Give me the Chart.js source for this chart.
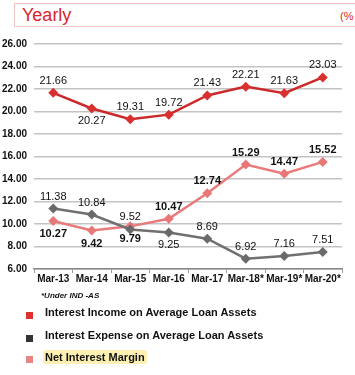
<!DOCTYPE html>
<html><head><meta charset="utf-8">
<script src="https://cdn.jsdelivr.net/npm/chart.js@4"></script>
<style>
html,body{margin:0;padding:0;background:#fff;width:355px;height:375px;overflow:hidden;font-family:"Liberation Sans",Arial,sans-serif;}
#hdr{position:absolute;left:14px;top:3px;width:360px;height:24px;border:1px solid #f4c4c4;box-sizing:border-box;}
#hdr .t{position:absolute;left:7px;top:1px;font-size:18px;color:#d8262a;}
#hdr .u{position:absolute;left:325px;top:6px;font-size:11px;color:#d8262a;}
#wrap{position:absolute;left:0;top:0;width:355px;height:300px;}
#note{position:absolute;left:41px;top:291px;font-size:8px;font-style:italic;font-weight:bold;color:#111;}
.lg{position:absolute;left:45px;font-size:11px;font-weight:bold;color:#111;white-space:nowrap;}
.sq{position:absolute;left:26px;width:7px;height:7px;}
.hl{background:#fdf0b2;border-radius:3px;padding:1px 2px;margin-left:-2px;}
</style></head>
<body>
<div id="hdr"><span class="t">Yearly</span><span class="u">(%</span></div>
<div id="wrap"><canvas id="c" width="355" height="300"></canvas></div>
<div id="note">*Under IND -AS</div>
<div class="sq" style="top:312px;background:#e0312f;"></div>
<div class="lg" style="top:306px;">Interest Income on Average Loan Assets</div>
<div class="sq" style="top:335px;background:#333;"></div>
<div class="lg" style="top:329px;">Interest Expense on Average Loan Assets</div>
<div class="sq" style="top:356px;background:#e88484;"></div>
<div class="lg" style="top:351px;"><span class="hl">Net Interest Margin</span></div>
<script>
const categories = ["Mar-13","Mar-14","Mar-15","Mar-16","Mar-17","Mar-18*","Mar-19*","Mar-20*"];
const incomeValues = [21.66,20.27,19.31,19.72,21.43,22.21,21.63,23.03];
const expenseValues = [11.38,10.84,9.52,9.25,8.69,6.92,7.16,7.51];
const nimValues = [10.27,9.42,9.79,10.47,12.74,15.29,14.47,15.52];
const incomeLabelPos = ["up","down","up","up","up","up","up","up"];
const expenseLabelPos = ["up","up","up","down","up","up","up","up"];
const nimLabelPos = ["down","down","down","up","up","up","up","up"];
const yMin = 6, yMax = 26, yStep = 2;

const labelPlugin = {
  id:'valLabels',
  afterDatasetsDraw(chart){
    const ctx = chart.ctx;
    chart.data.datasets.forEach((ds,i)=>{
      const meta = chart.getDatasetMeta(i);
      ctx.save();
      ctx.font = (ds.labelBold?'bold ':'') + '11px "Liberation Sans", Arial, sans-serif';
      ctx.fillStyle = '#111';
      ctx.textAlign = 'center';
      ctx.textBaseline = 'middle';
      meta.data.forEach((pt,j)=>{
        const dy = ds.labelPos[j]==='up' ? -12 : 13;
        ctx.fillText(ds.data[j].toFixed(2), pt.x, pt.y+dy);
      });
      ctx.restore();
    });
  }
};

new Chart(document.getElementById('c'),{
  type:'line',
  data:{
    labels:categories,
    datasets:[
      {data:incomeValues,borderColor:'#cc2a2a',backgroundColor:'#d92f2f',borderWidth:2.5,pointStyle:'rectRot',pointRadius:5,pointBorderWidth:0,labelPos:incomeLabelPos,labelBold:false},
      {data:expenseValues,borderColor:'#707070',backgroundColor:'#6a6a6a',borderWidth:2.5,pointStyle:'rectRot',pointRadius:5,pointBorderWidth:0,labelPos:expenseLabelPos,labelBold:false},
      {data:nimValues,borderColor:'#ea7a7a',backgroundColor:'#e87878',borderWidth:2.5,pointStyle:'rectRot',pointRadius:5,pointBorderWidth:0,labelPos:nimLabelPos,labelBold:true}
    ]
  },
  options:{
    responsive:false,animation:false,
    layout:{padding:{top:44,right:13,left:0,bottom:0}},
    plugins:{legend:{display:false},tooltip:{enabled:false}},
    scales:{
      x:{
        offset:true,
        grid:{offset:true,drawOnChartArea:false,tickLength:4,color:'#999',tickColor:'#999'},
        border:{display:true,color:'#888',width:1.5},
        ticks:{padding:0,color:'#111',font:{family:'"Liberation Sans", Arial, sans-serif',size:10,weight:'bold'},maxRotation:0,autoSkip:false},
        afterFit(s){s.height=31;}
      },
      y:{
        min:yMin,max:yMax,
        ticks:{stepSize:yStep,padding:7,color:'#111',font:{family:'"Liberation Sans", Arial, sans-serif',size:10,weight:'bold'},callback:v=>v.toFixed(2)},
        grid:{color:'#c4c4c4',lineWidth:1.5,drawTicks:false},
        border:{display:false},
        afterFit(s){s.width=34;}
      }
    }
  },
  plugins:[labelPlugin]
});
</script>
</body></html>
